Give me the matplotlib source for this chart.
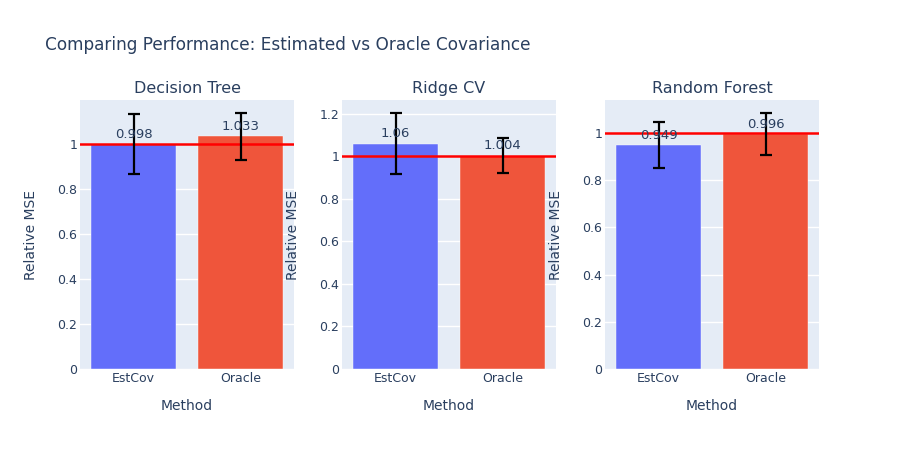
import numpy as np
import matplotlib
matplotlib.use("Agg")
import matplotlib.pyplot as plt
from matplotlib.ticker import FuncFormatter

models = ["Decision Tree", "Ridge CV", "Random Forest"]
methods = ["EstCov", "Oracle"]
rel_mse = [[0.998, 1.033], [1.06, 1.004], [0.949, 0.996]]
err = [[0.134, 0.105], [0.145, 0.083], [0.099, 0.09]]
ytops = [1.0, 1.2, 1.0]

colors = ["#636efa", "#EF553B"]
txt = "#2a3f5f"
bg = "#E5ECF6"

W, H = 899, 450
fig = plt.figure(figsize=(W / 100, H / 100), dpi=100)

lefts = [80, 342, 605]
pw = 214
top, bottom = 100, 369

for i, name in enumerate(models):
    ax = fig.add_axes([lefts[i] / W, 1 - bottom / H, pw / W, (bottom - top) / H])
    ax.set_facecolor(bg)
    x = np.arange(len(methods))
    vals = rel_mse[i]
    ax.bar(x, vals, width=0.8, color=colors, edgecolor="white", linewidth=0.3, zorder=2)
    ax.errorbar(x, vals, yerr=err[i], fmt="none", ecolor="black", elinewidth=1.6,
                capsize=4, capthick=1.6, zorder=4)
    hi = max(v + e for v, e in zip(vals, err[i]))
    ax.set_ylim(0, hi * 1.05)
    ax.set_xlim(-0.5, 1.5)
    ax.axhline(1, color="red", lw=1.8, zorder=3)
    for xi, v in zip(x, vals):
        ax.annotate("%g" % v, (xi, v), xytext=(0, 2.5), textcoords="offset points",
                    ha="center", va="bottom", fontsize=9.5, color=txt, zorder=5)
    ax.set_yticks(np.arange(0, ytops[i] + 0.01, 0.2))
    ax.yaxis.set_major_formatter(FuncFormatter(lambda v, p: "%g" % round(v, 2)))
    ax.set_xticks(x)
    ax.set_xticklabels(methods)
    ax.grid(axis="y", color="white", lw=1, zorder=1)
    ax.set_axisbelow(True)
    for s in ax.spines.values():
        s.set_visible(False)
    ax.tick_params(length=0, labelsize=9, colors=txt, pad=2)
    ax.set_title(name, fontsize=11.5, color=txt, pad=5)
    ax.set_xlabel("Method", fontsize=10, color=txt, labelpad=10)
    ax.set_ylabel("Relative MSE", fontsize=10, color=txt)
    ax.yaxis.set_label_coords(-42 / pw, 0.5)

fig.text(45 / W, 1 - 45 / H, "Comparing Performance: Estimated vs Oracle Covariance",
         fontsize=12.2, color=txt, va="center", ha="left")

fig.savefig("out.png", dpi=100)
